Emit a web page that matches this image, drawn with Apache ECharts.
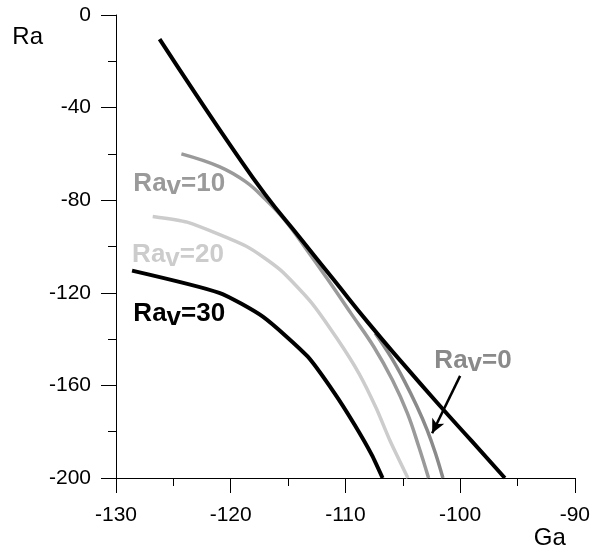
<!DOCTYPE html>
<html><head><meta charset="utf-8">
<script src="https://cdn.jsdelivr.net/npm/echarts@6/dist/echarts.min.js"></script>
<style>html,body{margin:0;padding:0;background:#fff}#c{width:593px;height:552px}</style>
</head><body><div id="c"></div>
<script>
// Axis ranges / ticks
const xRange = [-130, -90];
const xStep = 10;
const yRange = [-200, 0];
const yStep = 40;
const xName = 'Ga';
const yName = 'Ra';

// Envelope (black straight-ish line)
const envGa = [-126.2, -123, -120, -117, -114, -111, -108, -105, -102, -99, -96.1];
const envRa = [-10.4, -34.5, -56.5, -77.5, -96, -114.5, -133, -150.5, -167.5, -184, -200];

// Rav = 0
const rav0Ga = [-107.4, -106.05, -104.9, -103.75, -102.87, -102.15, -101.5];
const rav0Ra = [-137.5, -147.6, -157.7, -169.2, -179.3, -189.3, -200];

// Rav = 10
const rav10Ga = [-124.3, -121, -118.7, -117, -115.3, -113.5, -111.5, -109.5, -107.5, -105.9, -104.6, -103.6, -102.75];
const rav10Ra = [-60, -65.5, -72, -79.5, -88.5, -100.5, -114.5, -129, -143.5, -157.7, -172, -186.5, -200];

// Rav = 20
const rav20Ga = [-126.8, -123.8, -118.6, -115.7, -113, -110.7, -108.8, -107.3, -106.1, -104.55];
const rav20Ra = [-87, -89.5, -100, -110, -124, -140, -155, -170, -184, -200];

// Rav = 30
const rav30Ga = [-128.6, -121, -117.2, -113.3, -111, -109.2, -107.7, -106.76];
const rav30Ra = [-110.4, -120, -130.3, -147.5, -163, -177, -190, -200];

// Curve labels and their anchors (left-middle of text, data coords)
const labelTexts = ['Rav=0', 'Rav=10', 'Rav=20', 'Rav=30'];
const labelGa = [-102.29, -128.53, -128.64, -128.53];
const labelRa = [-149.2, -72.8, -103.7, -129.1];

// Arrow (from label to Rav=0 curve)
const arrowGa = [-100.0, -102.44];
const arrowRa = [-155.9, -180.7];

const colors = ['#8a8a8a', '#9a9a9a', '#cccccc', '#000000'];

function pairs(a, b) { return a.map((v, i) => [v, b[i]]); }
function richLabel(t) {
  return '{n|' + t.slice(0, 2) + '}{s|' + t.slice(2, 3) + '}{n|' + t.slice(3) + '}';
}
function labelPoint(i) {
  return {
    symbol: 'rect', symbolSize: 1, silent: true,
    itemStyle: { color: 'rgba(0,0,0,0)' },
    label: {
      show: true, position: 'right', distance: 0,
      formatter: () => richLabel(labelTexts[i]),
      rich: {
        n: { fontFamily: 'Liberation Sans', fontSize: 26, fontWeight: 'bold', lineHeight: 30, color: colors[i] },
        s: { fontFamily: 'Liberation Sans', fontSize: 26, fontWeight: 'bold', lineHeight: 30, padding: [7, 0, 0, 0], color: colors[i] }
      }
    },
    data: [{ coord: [labelGa[i], labelRa[i]] }]
  };
}
function lineSeries(name, ga, ra, color, width, smooth, extra) {
  return Object.assign({
    type: 'line', name: name, data: pairs(ga, ra), showSymbol: false, symbol: 'none',
    smooth: smooth, silent: true, animation: false,
    lineStyle: { color: color, width: width, cap: 'butt', join: 'round' },
    emphasis: { disabled: true }
  }, extra || {});
}

const axisFont = { fontFamily: 'Liberation Sans', fontSize: 21, color: '#000' };
const chart = echarts.init(document.getElementById('c'), null, { renderer: 'canvas' });
chart.setOption({
  animation: false,
  grid: { left: 116, right: 14, top: 15, bottom: 74, containLabel: false },
  xAxis: {
    type: 'value', min: xRange[0], max: xRange[1], interval: xStep,
    name: xName, nameLocation: 'end', nameGap: -9,
    nameTextStyle: { fontFamily: 'Liberation Sans', fontSize: 24, color: '#000', align: 'right', verticalAlign: 'top', padding: [48, 0, 0, 0] },
    axisLine: { onZero: false, lineStyle: { color: '#000', width: 1 } },
    axisTick: { length: 15, lineStyle: { color: '#000', width: 1 } },
    minorTick: { show: true, splitNumber: 2, length: 8, lineStyle: { color: '#000', width: 1 } },
    splitLine: { show: false },
    axisLabel: Object.assign({ margin: 27 }, axisFont)
  },
  yAxis: {
    type: 'value', min: yRange[0], max: yRange[1], interval: yStep,
    name: yName, nameLocation: 'end', nameGap: -22,
    nameTextStyle: { fontFamily: 'Liberation Sans', fontSize: 24, color: '#000', align: 'right', verticalAlign: 'middle', padding: [0, 73, 0, 0] },
    axisLine: { onZero: false, lineStyle: { color: '#000', width: 1 } },
    axisTick: { length: 15, lineStyle: { color: '#000', width: 1 } },
    minorTick: { show: true, splitNumber: 2, length: 8, lineStyle: { color: '#000', width: 1 } },
    splitLine: { show: false },
    axisLabel: Object.assign({ margin: 25 }, axisFont)
  },
  series: [
    lineSeries('Rav=20', rav20Ga, rav20Ra, colors[2], 3.5, 0.2, { markPoint: labelPoint(2) }),
    lineSeries('Rav=30', rav30Ga, rav30Ra, colors[3], 4, 0.2, { markPoint: labelPoint(3) }),
    lineSeries('Rav=10', rav10Ga, rav10Ra, colors[1], 3.5, 0.4, { markPoint: labelPoint(1) }),
    lineSeries('Rav=0', rav0Ga, rav0Ra, colors[0], 3.5, 0.4, {
      markPoint: labelPoint(0),
      markLine: {
        silent: true, animation: false, symbol: ['none', 'arrow'], symbolSize: [10, 14],
        label: { show: false }, emphasis: { disabled: true },
        lineStyle: { color: '#000', width: 2.5, type: 'solid' },
        data: [[{ coord: [arrowGa[0], arrowRa[0]] }, { coord: [arrowGa[1], arrowRa[1]] }]]
      }
    }),
    lineSeries('envelope', envGa, envRa, '#000', 4, 0.5)
  ]
});
</script>
</body></html>
